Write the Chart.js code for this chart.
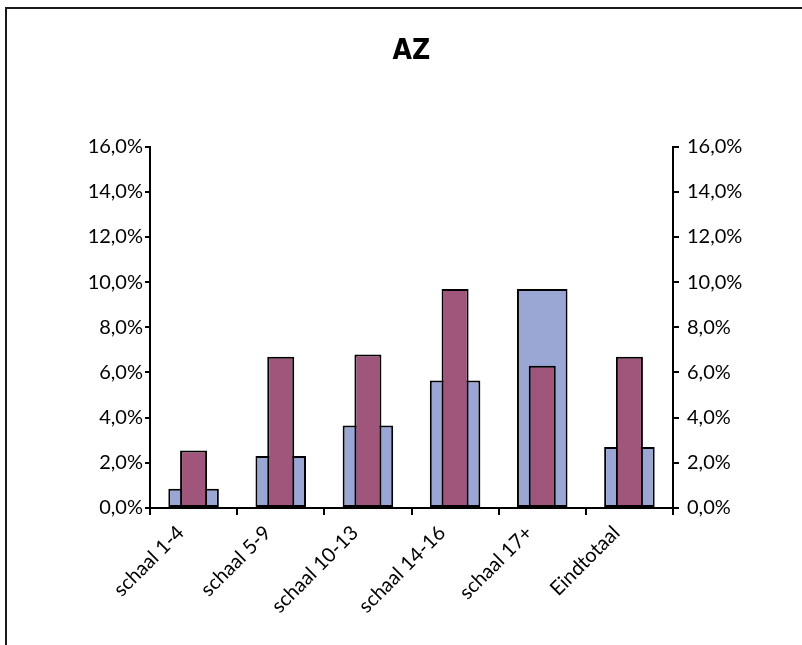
<!DOCTYPE html>
<html>
<head>
<meta charset="utf-8">
<script src="https://cdn.jsdelivr.net/npm/chart.js@4/dist/chart.umd.min.js"></script>
<style>
  body { margin: 0; background: #fff; }
  canvas { display: block; }
</style>
</head>
<body>
<canvas id="az" width="802" height="645"></canvas>
<script>
// categorieen en waarden (in %)
var categorieen = ["schaal 1-4", "schaal 5-9", "schaal 10-13", "schaal 14-16", "schaal 17+", "Eindtotaal"];
var reeksBlauw = [0.85, 2.3, 3.65, 5.65, 9.7, 2.7];
var reeksPaars = [2.55, 6.7, 6.8, 9.7, 6.3, 6.7];
var asTicks = [0, 2, 4, 6, 8, 10, 12, 14, 16];

function pct(v) {
  return v.toFixed(1).replace(".", ",") + "%";
}

// kader rond de grafiek
var kader = {
  id: "kader",
  beforeDraw: function (chart) {
    var c = chart.ctx;
    c.save();
    c.fillStyle = "#fff";
    c.fillRect(0, 0, chart.width, chart.height);
    c.strokeStyle = "#1a1a1a";
    c.lineWidth = 2;
    c.strokeRect(6, 8, 900, 800);
    c.restore();
  }
};

var ctx = document.getElementById("az").getContext("2d");
var grafiek = new Chart(ctx, {
  type: "bar",
  data: {
    labels: categorieen,
    datasets: [{
      label: "blauw",
      data: reeksBlauw,
      backgroundColor: "#9aa6d4",
      borderColor: "#000",
      borderWidth: 2,
      borderSkipped: false,
      grouped: false,
      barPercentage: 0.58,
      categoryPercentage: 1,
      order: 2,
      yAxisID: "y"
    }, {
      label: "paars",
      data: reeksPaars,
      backgroundColor: "#a0557a",
      borderColor: "#000",
      borderWidth: 2,
      borderSkipped: false,
      grouped: false,
      barPercentage: 0.31,
      categoryPercentage: 1,
      order: 1,
      yAxisID: "y"
    }]
  },
  options: {
    responsive: false,
    animation: false,
    layout: { padding: { left: 0, right: 0, top: 0, bottom: 0 } },
    plugins: {
      legend: { display: false },
      tooltip: { enabled: false },
      title: {
        display: true,
        fullSize: false, // gecentreerd boven het plotgebied
        text: "AZ",
        color: "#000",
        font: { family: "DejaVu Sans Condensed", size: 28, weight: "bold" },
        padding: { top: 35, bottom: 78 }
      }
    },
    scales: {
      x: {
        grid: { offset: true, drawOnChartArea: false, color: "#000", tickLength: 7, lineWidth: 2 },
        border: { color: "#000", width: 2 },
        ticks: {
          color: "#000",
          maxRotation: 45,
          minRotation: 45,
          padding: 6,
          labelOffset: -13,
          font: { family: "Lato", size: 20 }
        },
        afterFit: function (s) { s.height = 137; }
      },
      y: {
        position: "left",
        min: 0,
        max: 16,
        afterBuildTicks: function (s) { s.ticks = asTicks.map(function (v) { return { value: v }; }); },
        grid: { drawOnChartArea: false, color: "#000", tickLength: 5, lineWidth: 2 },
        border: { color: "#000", width: 2 },
        ticks: {
          color: "#000",
          padding: 2,
          font: { family: "Lato", size: 20 },
          callback: function (v) { return pct(v); }
        },
        afterFit: function (s) { s.width = 150; }
      },
      y2: {
        position: "right",
        min: 0,
        max: 16,
        afterBuildTicks: function (s) { s.ticks = asTicks.map(function (v) { return { value: v }; }); },
        grid: { drawOnChartArea: false, color: "#000", tickLength: 6, lineWidth: 2 },
        border: { color: "#000", width: 2 },
        ticks: {
          color: "#000",
          padding: 8,
          font: { family: "Lato", size: 20 },
          callback: function (v) { return pct(v); }
        },
        afterFit: function (s) { s.width = 129; }
      }
    }
  },
  plugins: [kader]
});
</script>
</body>
</html>
